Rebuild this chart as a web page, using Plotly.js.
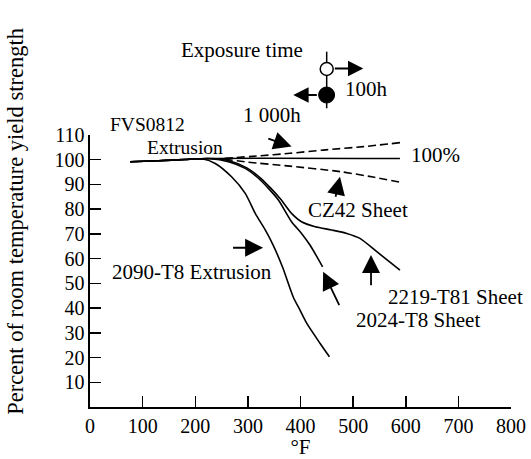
<!DOCTYPE html>
<html>
<head>
<meta charset="utf-8">
<script src="https://cdn.plot.ly/plotly-3.0.1.min.js"></script>
<style>html,body{margin:0;padding:0;background:#fff;}#chart{width:531px;height:459px;}</style>
</head>
<body>
<div id="chart"></div>
<script>
// ---- data (°F vs % of room temperature yield strength) ----
const xTickVals = [0, 100, 200, 300, 400, 500, 600, 700, 800];
const yTickVals = [10, 20, 30, 40, 50, 60, 70, 80, 90, 100, 110];

const refX = [76, 130, 180, 228, 589];
const refY = [99.2, 99.6, 100.1, 100.5, 100.5];

const upperDashX = [256, 317, 380, 443, 520, 589];
const upperDashY = [100.6, 101.5, 102.6, 103.9, 105.3, 106.9];

const lowerDashX = [256, 300, 380, 475, 538, 589];
const lowerDashY = [100.2, 99.0, 97.4, 95.2, 93.0, 90.9];

const x2090 = [76, 130, 180, 215, 238, 269, 295, 314, 333, 348, 366, 386, 399, 412, 437, 455];
const y2090 = [99.2, 99.6, 100.1, 100.3, 98.5, 93.1, 86.4, 78.3, 71.6, 65.5, 56.5, 44.6, 39.2, 33.8, 25.8, 20.3];

const x2024 = [76, 130, 180, 228, 263, 295, 320, 339, 358, 383, 402, 418, 442];
const y2024 = [99.2, 99.6, 100.1, 100.4, 99.2, 96.5, 92.5, 88.4, 83.7, 74.9, 70.2, 65.5, 56.7];

const x2219 = [76, 130, 180, 228, 266, 298, 324, 343, 362, 383, 402, 428, 459, 488, 513, 545, 589];
const y2219 = [99.2, 99.6, 100.1, 100.5, 99.5, 96.7, 92.6, 88.6, 84.1, 78.3, 74.9, 72.9, 71.6, 70.2, 68.2, 62.8, 55.4];

// ---- traces ----
const F = 'Liberation Serif, Times New Roman, serif';
function line(x, y, name, dash) {
  return {x: x, y: y, type: 'scatter', mode: 'lines', name: name,
          line: {color: '#000', width: 1.6, dash: dash || 'solid', shape: 'spline', smoothing: 0.7},
          hoverinfo: 'x+y+name'};
}
const traces = [
  line(refX, refY, 'FVS0812 Extrusion 100%'),
  line(upperDashX, upperDashY, 'FVS0812 Extrusion 1 000h', '8px,4px'),
  line(lowerDashX, lowerDashY, 'CZ42 Sheet', '8px,4px'),
  line(x2090, y2090, '2090-T8 Extrusion'),
  line(x2024, y2024, '2024-T8 Sheet'),
  line(x2219, y2219, '2219-T81 Sheet')
];

function label(text, x, y, ref, size) {
  return {text: text, x: x, y: y, xref: ref || 'x', yref: ref || 'y', showarrow: false,
          xanchor: 'center', yanchor: 'middle', borderpad: 0,
          font: {family: F, size: size || 21, color: '#000'}};
}
function arrow(tx, ty, hx, hy) {
  return {text: '', x: hx, y: hy, ax: tx, ay: ty, xref: 'x', yref: 'y', axref: 'x', ayref: 'y',
          showarrow: true, arrowhead: 2, arrowsize: 2, arrowwidth: 1.8, arrowcolor: '#000', standoff: 0};
}
function parrow(hx, hy, dx) {
  return {text: '', x: hx, y: hy, ax: dx, ay: 0, xref: 'paper', yref: 'paper',
          showarrow: true, arrowhead: 2, arrowsize: 1.7, arrowwidth: 1.8, arrowcolor: '#000', standoff: 0};
}

const annotations = [
  label('FVS0812', 0.1375, 1.0386, 'paper', 19.5),
  label('Extrusion', 181, 105.1, 'x', 19.5),
  label('100%', 657, 101.9),
  label('CZ42 Sheet', 509, 79.7),
  label('2090-T8 Extrusion', 194, 54.7),
  label('2219-T81 Sheet', 694, 44.5),
  label('2024-T8 Sheet', 623, 35.2),
  label('Exposure time', 0.3613, 1.3127, 'paper'),
  label('100h', 0.6575, 1.1691, 'paper'),
  label('1 000h', 0.4313, 1.0736, 'paper'),
  arrow(269, 64.4, 329, 64.4),
  arrow(475, 40.6, 443, 54.7),
  arrow(534, 48.6, 534, 61.5),
  arrow(466, 84.4, 475, 93.1),
  arrow(336, 108.7, 383, 105.3),
  parrow(0.6492, 1.2445, -30),
  parrow(0.4829, 1.1471, 25),
  {text: 'Percent of room temperature yield strength', x: -0.176, y: 0.684, xref: 'paper', yref: 'paper',
   showarrow: false, textangle: -90, xanchor: 'center', yanchor: 'middle',
   font: {family: F, size: 22.5, color: '#000'}}
];

const shapes = [
  {type: 'line', xref: 'paper', yref: 'paper', x0: 0.5622, x1: 0.5622, y0: 1.0982, y1: 1.3063,
   line: {color: '#000', width: 1.5}},
  {type: 'circle', xref: 'paper', yref: 'paper', x0: 0.5468, x1: 0.5777, y0: 1.2188, y1: 1.2665,
   fillcolor: '#fff', line: {color: '#000', width: 1.5}},
  {type: 'circle', xref: 'paper', yref: 'paper', x0: 0.5430, x1: 0.5810, y0: 1.1176, y1: 1.1765,
   fillcolor: '#000', line: {color: '#000', width: 1}}
];

const layout = {
  width: 531, height: 459,
  margin: {l: 90, r: 20, t: 135, b: 52, pad: 0},
  paper_bgcolor: '#fff', plot_bgcolor: '#fff',
  showlegend: false,
  font: {family: F, color: '#000', size: 20},
  xaxis: {range: [0, 800], tickvals: xTickVals, ticktext: xTickVals.map(String),
          ticks: 'inside', ticklen: 11, tickwidth: 1.5, tickcolor: '#000',
          showline: true, linecolor: '#000', linewidth: 1.6, showgrid: false, zeroline: false,
          tickfont: {family: F, size: 20, color: '#000'},
          title: {text: '°F', font: {family: F, size: 21, color: '#000'}, standoff: 0}},
  yaxis: {range: [0, 110], tickvals: yTickVals, ticktext: yTickVals.map(String),
          ticks: 'inside', ticklen: 11, tickwidth: 1.5, tickcolor: '#000',
          showline: true, linecolor: '#000', linewidth: 1.6, showgrid: false, zeroline: false,
          tickfont: {family: F, size: 20, color: '#000'}},
  annotations: annotations,
  shapes: shapes
};

Plotly.newPlot('chart', traces, layout, {displayModeBar: false, staticPlot: true});
</script>
</body>
</html>
